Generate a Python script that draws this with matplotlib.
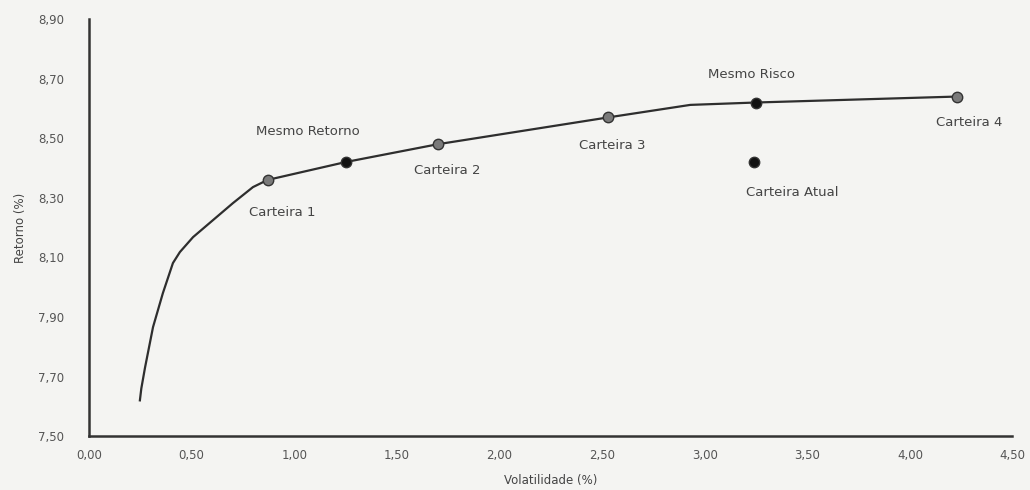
import matplotlib
matplotlib.use("Agg")
import matplotlib.pyplot as plt
from matplotlib.ticker import FuncFormatter

# Efficient frontier (volatility %, return %)
frontier_vol = [0.248, 0.255, 0.273, 0.312, 0.360, 0.409, 0.443, 0.507, 0.604, 0.701,
                0.799, 0.87, 1.25, 1.70, 2.53, 2.93, 3.25, 4.23]
frontier_ret = [7.62, 7.66, 7.73, 7.866, 7.98, 8.081, 8.118, 8.168, 8.225, 8.282,
                8.336, 8.36, 8.42, 8.48, 8.57, 8.612, 8.62, 8.64]

# Named portfolios
portfolio_names = ["Carteira 1", "Mesmo Retorno", "Carteira 2", "Carteira 3",
                   "Mesmo Risco", "Carteira 4", "Carteira Atual"]
portfolio_vol = [0.87, 1.25, 1.70, 2.53, 3.25, 4.23, 3.24]
portfolio_ret = [8.36, 8.42, 8.48, 8.57, 8.62, 8.64, 8.42]
portfolio_dark = [False, True, False, False, True, False, True]

x_ticks = [0.0, 0.5, 1.0, 1.5, 2.0, 2.5, 3.0, 3.5, 4.0, 4.5]
y_ticks = [7.5, 7.7, 7.9, 8.1, 8.3, 8.5, 8.7, 8.9]

label_offsets = {
    "Carteira 1": (15, -33),
    "Mesmo Retorno": (-38, 31),
    "Carteira 2": (9, -26),
    "Carteira 3": (4, -28),
    "Mesmo Risco": (-4, 28),
    "Carteira 4": (12, -26),
    "Carteira Atual": (38, -30),
}

bg = "#f4f4f2"
fig = plt.figure(figsize=(10.3, 4.9), dpi=100, facecolor=bg)
ax = fig.add_axes([0.0864, 0.110, 0.8966, 0.851], facecolor=bg)

ax.plot(frontier_vol, frontier_ret, color="#2e2e2e", lw=1.6, zorder=2,
        solid_joinstyle="round")

for name, v, r, dark in zip(portfolio_names, portfolio_vol, portfolio_ret, portfolio_dark):
    face = "#111111" if dark else "#7a7a7a"
    ax.plot([v], [r], marker="o", ms=7.5, mfc=face, mec="#333333", mew=1.0,
            linestyle="none", zorder=3)
    dx, dy = label_offsets[name]
    ax.annotate(name, (v, r), xytext=(dx, dy), textcoords="offset pixels",
                ha="center", va="center", fontsize=9.5, color="#444444")

ax.set_xlim(0, 4.5)
ax.set_ylim(7.5, 8.9)
ax.set_xticks(x_ticks)
ax.set_yticks(y_ticks)
comma = FuncFormatter(lambda val, pos: f"{val:.2f}".replace(".", ","))
ax.xaxis.set_major_formatter(comma)
ax.yaxis.set_major_formatter(comma)
ax.tick_params(axis="y", length=0, labelsize=8.5, labelcolor="#555555", pad=18)
ax.tick_params(axis="x", length=0, labelsize=8.5, labelcolor="#555555", pad=9)

for side in ("top", "right"):
    ax.spines[side].set_visible(False)
for side in ("left", "bottom"):
    ax.spines[side].set_color("#333333")
    ax.spines[side].set_linewidth(1.8)

ax.set_xlabel("Volatilidade (%)", fontsize=8.5, color="#444444", labelpad=9)
ax.set_ylabel("Retorno (%)", fontsize=8.5, color="#444444", labelpad=8)

fig.savefig("out.png", dpi=100, facecolor=bg)
